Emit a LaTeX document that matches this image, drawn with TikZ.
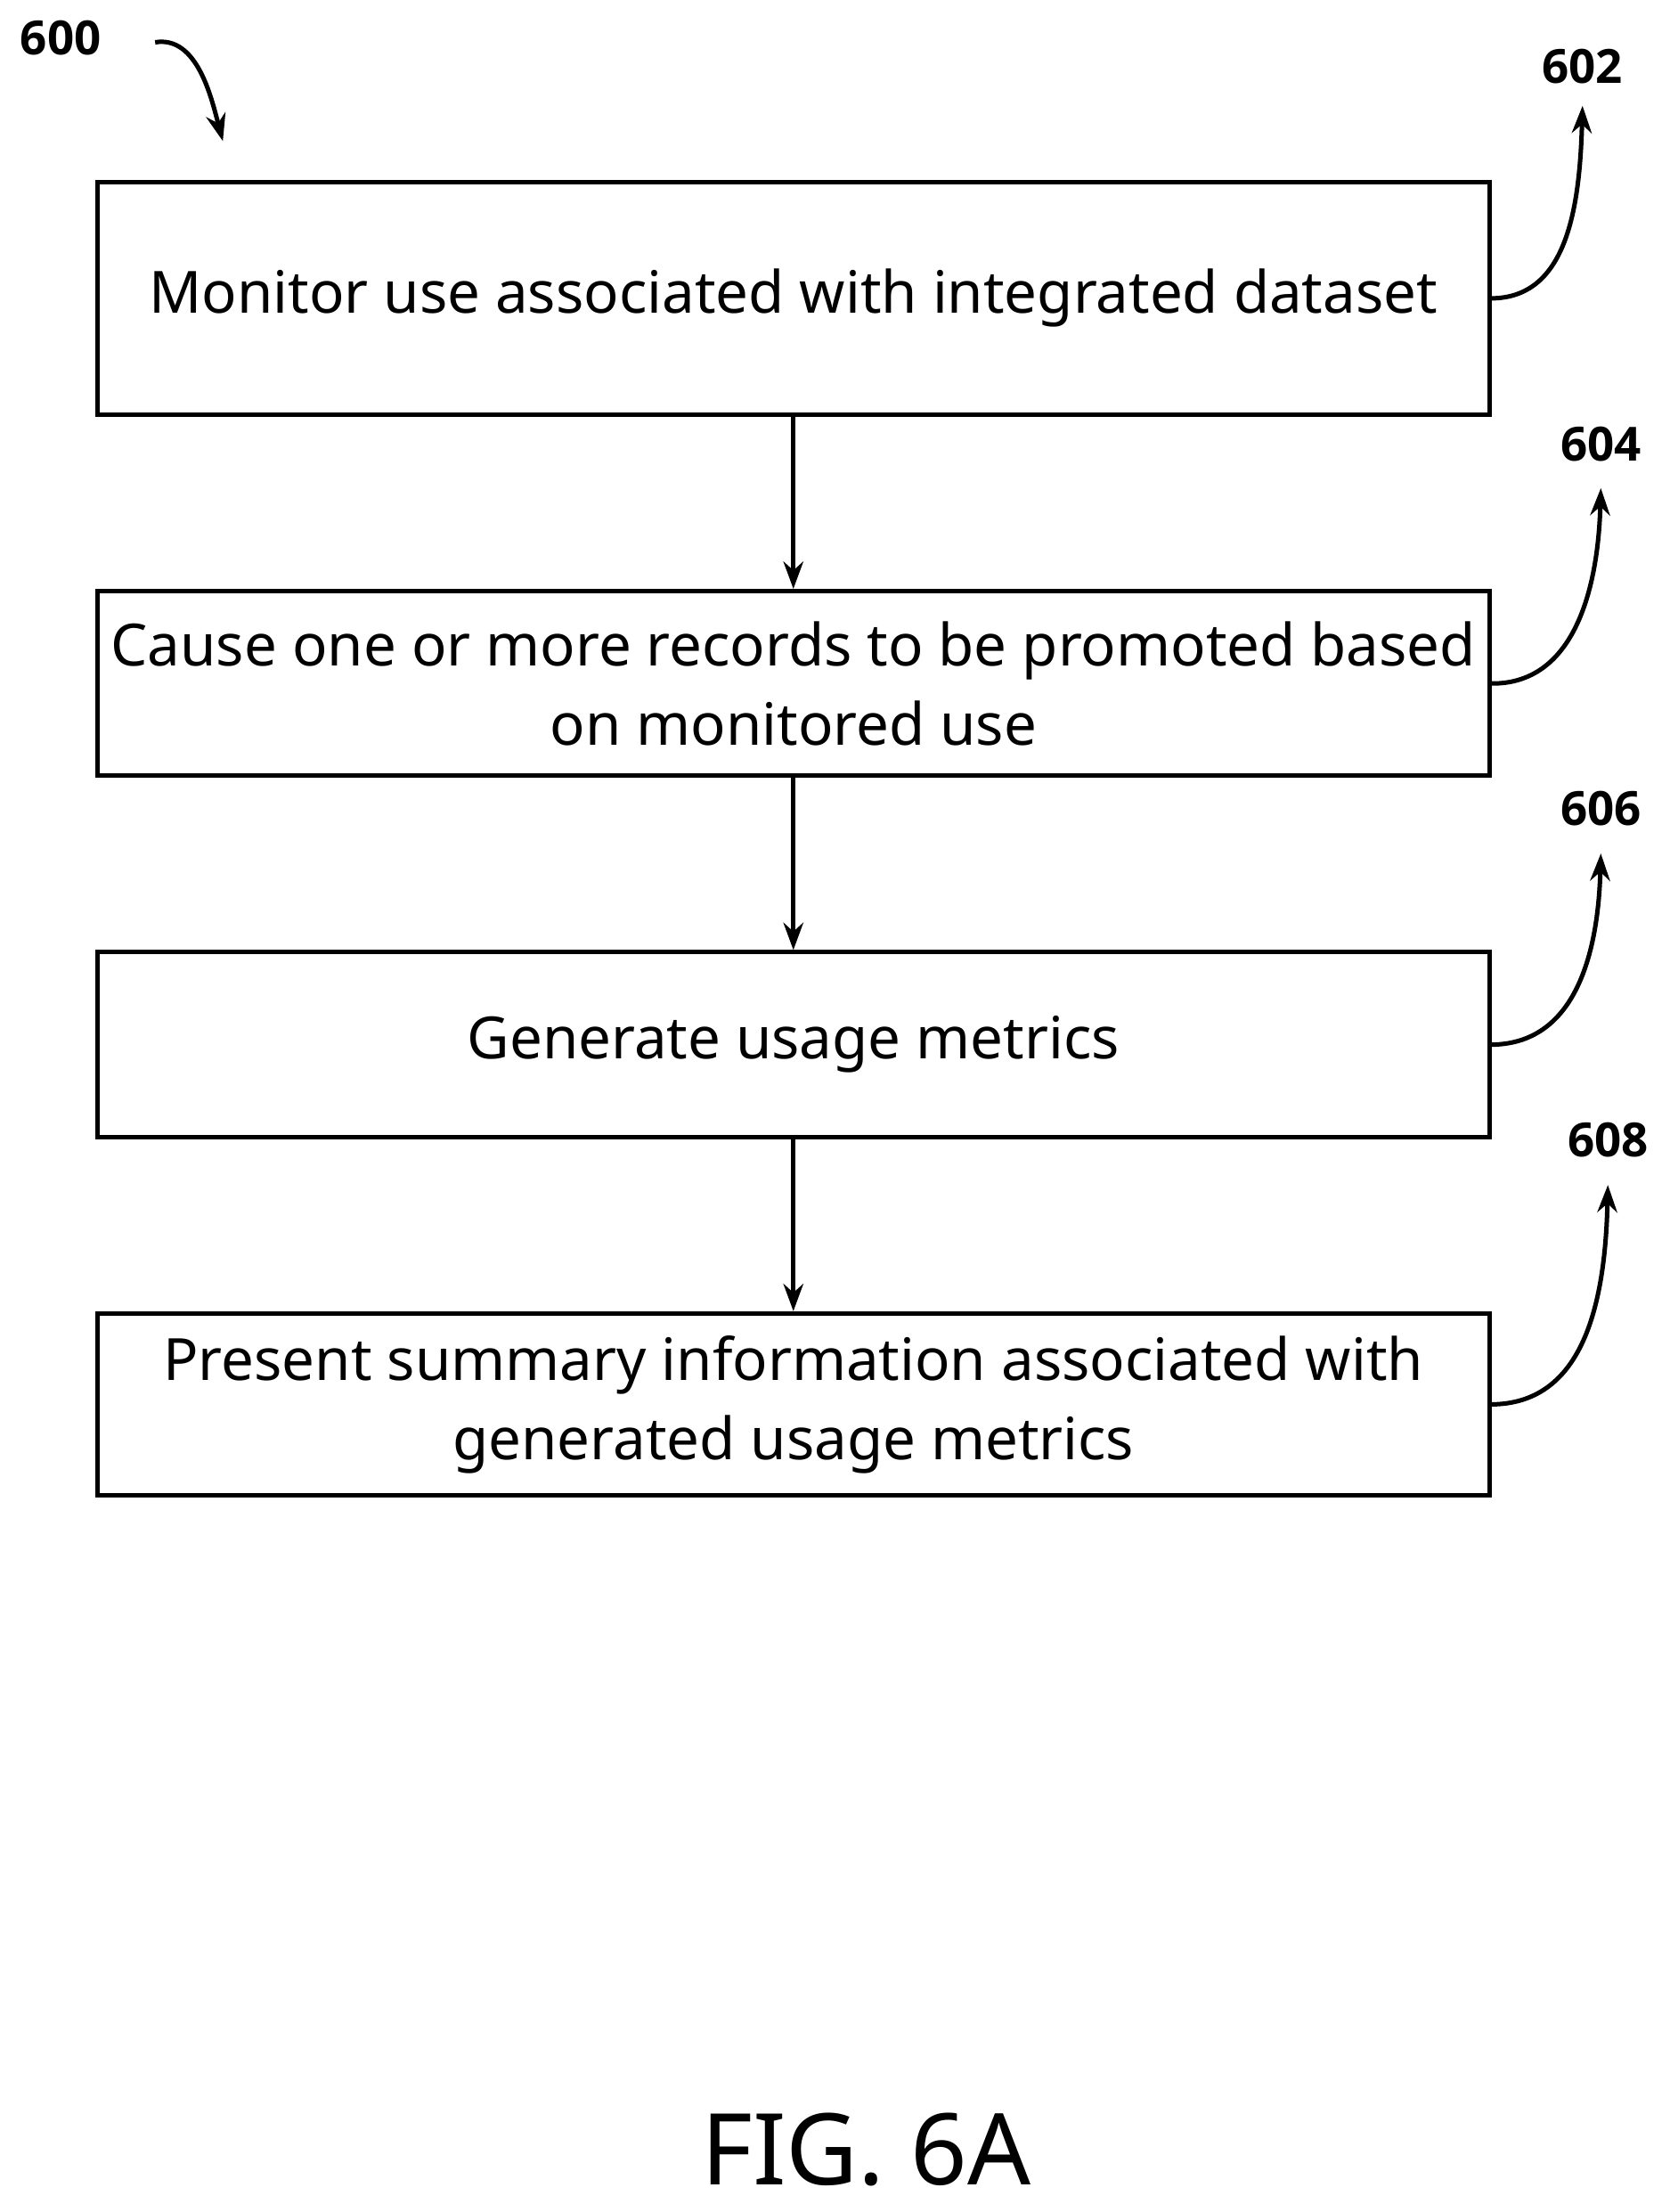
\documentclass[tikz,border=0pt]{standalone}
\usepackage{fontspec}
\setmainfont{Noto Sans}
\newfontfamily\lblfont{Open Sans}[BoldFont={Open Sans Bold}]
\usetikzlibrary{arrows.meta}
\begin{document}
\begin{tikzpicture}[x=0.02cm,y=-0.02cm,
 box/.style={draw,line width=1.8pt,minimum width=987*0.02cm,align=center,font=\fontsize{23.5}{32}\selectfont,inner sep=0pt},
 lbl/.style={font=\lblfont\fontsize{19}{22}\selectfont\bfseries},
 arr/.style={line width=1.8pt,-{Stealth[length=11pt,width=8pt]}}]
\useasboundingbox (0,0) rectangle (1184,1568);
\node[box,minimum height=165*0.02cm] (b1) at (562.5,211.5) {Monitor use associated with integrated dataset};
\node[box,minimum height=131*0.02cm] (b2) at (562.5,484.5) {Cause one or more records to be promoted based\\on monitored use};
\node[box,minimum height=131*0.02cm] (b3) at (562.5,740.5) {Generate usage metrics};
\node[box,minimum height=129*0.02cm] (b4) at (562.5,995.5) {Present summary information associated with\\generated usage metrics};
\draw[arr] (b1) -- (b2);
\draw[arr] (b2) -- (b3);
\draw[arr] (b3) -- (b4);
\node[lbl] (l600) at (43,27) {600};
\node[lbl] (l602) at (1122,47) {602};
\node[lbl] (l604) at (1135,315) {604};
\node[lbl] (l606) at (1135,573) {606};
\node[lbl] (l608) at (1140,808) {608};
\coordinate (s600) at (110,30);
\coordinate (e600) at (158,100);
\draw[arr] (s600) .. controls (140,25) and (150,70) .. (e600);
\draw[arr] (b1.east) .. controls (1110,211) and (1120,150) .. (1122,75);
\draw[arr] (b2.east) .. controls (1115,485) and (1133,420) .. (1135,346);
\draw[arr] (b3.east) .. controls (1115,740) and (1133,680) .. (1135,605);
\draw[arr] (b4.east) .. controls (1120,995) and (1138,930) .. (1140,840);
\node[font=\fontsize{40}{48}\selectfont] (fig) at (614,1524) {FIG. 6A};
\end{tikzpicture}
\end{document}
